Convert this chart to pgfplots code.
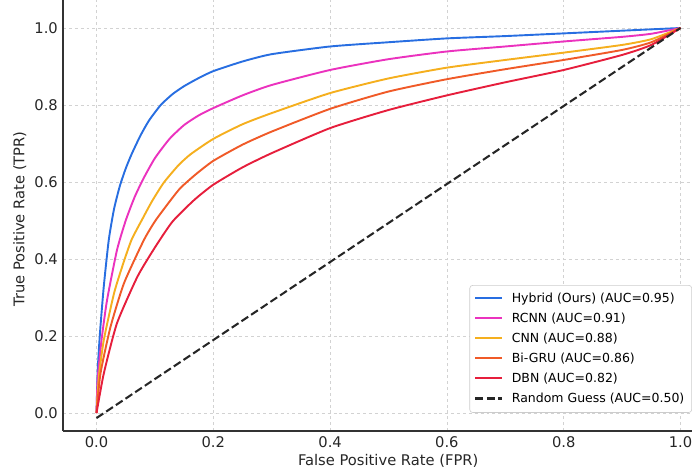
\documentclass[border=0pt]{standalone}
\usepackage{fontspec}
\setmainfont{DejaVu Sans}
\usepackage{pgfplots}
\pgfplotsset{compat=1.18}

\definecolor{cHybrid}{RGB}{40,110,225}
\definecolor{cRCNN}{RGB}{235,50,190}
\definecolor{cCNN}{RGB}{245,175,30}
\definecolor{cBiGRU}{RGB}{240,90,40}
\definecolor{cDBN}{RGB}{230,30,60}

\begin{document}
\begin{tikzpicture}
\begin{axis}[
  scale only axis,
  width=427.7pt, height=293.1pt,
  xmin=-0.0574, xmax=1.0197, ymin=-0.0468, ymax=1.0727,
  axis lines*=left,
  axis line style={-, line width=1.1pt, black!80},
  xtick={0,0.2,0.4,0.6,0.8,1}, ytick={0,0.2,0.4,0.6,0.8,1},
  major tick length=0pt,
  /pgf/number format/.cd, fixed, fixed zerofill, precision=1, assume math mode=true,
  /pgfplots/.cd,
  tick label style={font=\fontsize{10}{12}\selectfont, black!85},
  grid=major,
  grid style={gray!35, line width=0.5pt, dash pattern=on 2pt off 2pt},
  xlabel={False Positive Rate (FPR)},
  ylabel={True Positive Rate (TPR)},
  label style={font=\fontsize{10}{12}\selectfont, black!85},
  x label style={at={(axis description cs:0.517,0)}, anchor=north, yshift=-12.5pt},
  y label style={at={(axis description cs:-0.0874,0.492)}, anchor=north, rotate=0},
  legend cell align=left,
  legend image code/.code={\draw[#1, sharp plot] (0cm,0.02cm) -- (0.65cm,0.02cm); \path (0.78cm,0cm);},
  legend style={at={(axis description cs:1.0,0.3387)}, anchor=north east,
    draw=black!20, rounded corners=2pt, fill=white,
    font=\fontsize{8.5}{10}\selectfont, inner xsep=3pt, inner ysep=3pt, row sep=1.75pt},
  every axis plot/.append style={line width=1.3pt, smooth, tension=0.35},
]
\addplot[cHybrid] coordinates {
(0,0) (0.002,0.11) (0.006,0.21) (0.0125,0.33) (0.021,0.45) (0.03,0.53) (0.04,0.59)
(0.05,0.635) (0.06,0.672) (0.075,0.72) (0.09,0.76) (0.11,0.80) (0.13,0.828)
(0.15,0.849) (0.175,0.87) (0.2,0.888) (0.25,0.913) (0.3,0.932) (0.4,0.952)
(0.5,0.963) (0.6,0.973) (0.7,0.979) (0.8,0.986) (0.9,0.993) (1,1)};
\addlegendentry{Hybrid (Ours) (AUC=0.95)}
\addplot[cRCNN] coordinates {
(0,0) (0.002,0.09) (0.0086,0.19) (0.018,0.293) (0.035,0.423) (0.05,0.50)
(0.065,0.56) (0.08,0.608) (0.1,0.662) (0.125,0.712) (0.15,0.748) (0.175,0.773)
(0.2,0.792) (0.25,0.825) (0.3,0.852) (0.4,0.891) (0.5,0.919) (0.6,0.939)
(0.7,0.952) (0.8,0.965) (0.9,0.977) (0.95,0.985) (1,1)};
\addlegendentry{RCNN (AUC=0.91)}
\addplot[cCNN] coordinates {
(0,0) (0.004,0.094) (0.0125,0.19) (0.03,0.311) (0.045,0.385) (0.06,0.45)
(0.08,0.508) (0.095,0.55) (0.115,0.598) (0.14,0.643) (0.161,0.672) (0.2,0.712)
(0.25,0.75) (0.3,0.779) (0.4,0.831) (0.5,0.869) (0.6,0.897) (0.7,0.917)
(0.8,0.936) (0.9,0.956) (0.95,0.971) (1,1)};
\addlegendentry{CNN (AUC=0.88)}
\addplot[cBiGRU] coordinates {
(0,0) (0.0068,0.103) (0.024,0.224) (0.047,0.337) (0.081,0.449) (0.101,0.50)
(0.127,0.553) (0.144,0.585) (0.17,0.62) (0.2,0.655) (0.25,0.697) (0.3,0.731)
(0.4,0.79) (0.5,0.835) (0.6,0.867) (0.7,0.893) (0.8,0.917) (0.9,0.943)
(0.95,0.963) (1,1)};
\addlegendentry{Bi-GRU (AUC=0.86)}
\addplot[color=cDBN] coordinates {
(0,0) (0.0125,0.103) (0.035,0.233) (0.07,0.354) (0.1,0.43) (0.13,0.497)
(0.167,0.553) (0.2,0.593) (0.25,0.638) (0.3,0.675) (0.4,0.74) (0.5,0.787)
(0.6,0.825) (0.7,0.859) (0.8,0.891) (0.9,0.93) (0.95,0.956) (1,1)};
\addlegendentry{DBN (AUC=0.82)}
\addplot[black!85, line width=1.4pt, sharp plot, dash pattern=on 5.5pt off 2.4pt] coordinates {(0,-0.013) (1,1)};
\addlegendentry{Random Guess (AUC=0.50)}
\end{axis}
\pgfresetboundingbox
\path ([shift={(-42.84pt,-28.56pt)}]current axis.south west) rectangle (current axis.north east);
\end{tikzpicture}
\end{document}
